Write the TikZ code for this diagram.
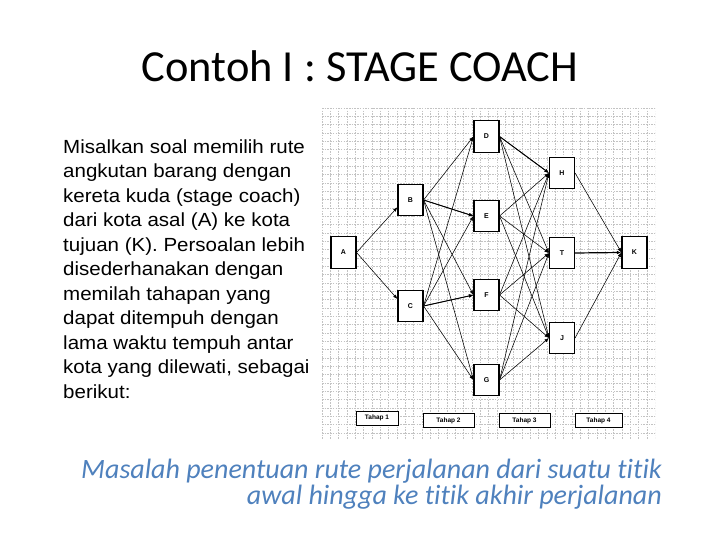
\documentclass[tikz,border=0pt]{standalone}
\usepackage{fontspec}
\newfontfamily\carlito[Ligatures={NoCommon,NoContextual,NoRequired,NoRare}]{Carlito}
\newfontfamily\arial{Liberation Sans}
\newfontfamily\arialw[FakeStretch=1.08]{Liberation Sans}
\usetikzlibrary{arrows.meta}
\definecolor{subblue}{RGB}{79,129,189}
\definecolor{gridgray}{RGB}{195,195,195}
\tikzset{
  city/.style={draw=black, line width=1.1pt, fill=white, minimum width=25pt, minimum height=31.5pt, inner sep=0pt, font=\arial\bfseries\fontsize{7}{8}\selectfont},
  stagebox/.style={draw=black, line width=1pt, fill=white, minimum height=14pt, inner sep=0pt, font=\arial\bfseries\fontsize{6.5}{7}\selectfont},
  route/.style={-{Latex[length=4.5pt,width=3.5pt]}, line width=0.55pt, black},
  boldroute/.style={route, line width=0.9pt},
}
\begin{document}
\begin{tikzpicture}[x=1pt,y=-1pt]
\useasboundingbox (0,0) rectangle (720,540);
% grid background
\begin{scope}
\clip (322,108) rectangle (655,440);
\foreach \i in {0,...,40} {
  \draw[gridgray, line width=0.45pt, dash pattern=on 1.5pt off 1.2pt] ({322+\i*8.33},108) -- ({322+\i*8.33},440);
  \draw[gridgray, line width=0.45pt, dash pattern=on 1.5pt off 1.2pt] (322,{108+\i*8.33}) -- (655,{108+\i*8.33});
}
\end{scope}
% title
\node[anchor=base, inner sep=0pt, font=\carlito\fontsize{44.4}{50}\selectfont] (title) at (360,82) {Contoh I : STAGE COACH};
% body text
\node[anchor=north west, inner sep=0pt, align=left, font=\arialw\fontsize{19}{24.5}\selectfont] (body) at (63,139.5) {Misalkan soal memilih rute\\angkutan barang dengan\\kereta kuda (stage coach)\\dari kota asal (A) ke kota\\tujuan (K). Persoalan lebih\\disederhanakan dengan\\memilah tahapan yang\\dapat ditempuh dengan\\lama waktu tempuh antar\\kota yang dilewati, sebagai\\berikut:};
% subtitle
\node[anchor=base east, inner sep=0pt, text=subblue, font=\carlito\itshape\fontsize{28}{30}\selectfont] (sub1) at (662,478) {Masalah penentuan rute perjalanan dari suatu titik};
\node[anchor=base east, inner sep=0pt, text=subblue, font=\carlito\itshape\fontsize{28}{30}\selectfont] (sub2) at (662,504) {awal hingga ke titik akhir perjalanan};
% nodes
\node[city] (A) at (343.5,252.5) {A};
\node[city] (B) at (410.5,200) {B};
\node[city] (C) at (410.5,306) {C};
\node[city] (D) at (486.5,136.5) {D};
\node[city] (E) at (486.5,216) {E};
\node[city] (F) at (486.5,295) {F};
\node[city] (G) at (486.5,380) {G};
\node[city] (H) at (562,173) {H};
\node[city] (T) at (562,253) {T};
\node[city] (J) at (562,338) {J};
\node[city] (K) at (634.5,252.5) {K};
% stage boxes
\node[stagebox, minimum width=42pt] (t1) at (377,418) {Tahap 1};
\node[stagebox, minimum width=51pt] (t2) at (448.5,420.5) {Tahap 2};
\node[stagebox, minimum width=51pt] (t3) at (524.5,420.5) {Tahap 3};
\node[stagebox, minimum width=47pt] (t4) at (598.5,420.5) {Tahap 4};
% edges
\draw[route] (A.east) -- (B.209);
\draw[route] (A.east) -- (C.152);
\foreach \s in {B,C} {
  \foreach \t in {D,E,F,G} {
    \draw[route] (\s.east) -- (\t.west);
  }
}
\draw[boldroute] (B.east) -- (E.west);
\draw[boldroute] (C.east) -- (F.west);
\foreach \s in {D,E,F,G} {
  \foreach \t in {H,T,J} {
    \draw[route] (\s.east) -- (\t.west);
  }
}
\draw[boldroute] (D.east) -- (H.west);
\draw[route] (H.east) -- (K.west);
\draw[route, line width=1.2pt] (T.east) -- (K.west);
\draw[route] (J.east) -- (K.west);
\end{tikzpicture}
\end{document}
